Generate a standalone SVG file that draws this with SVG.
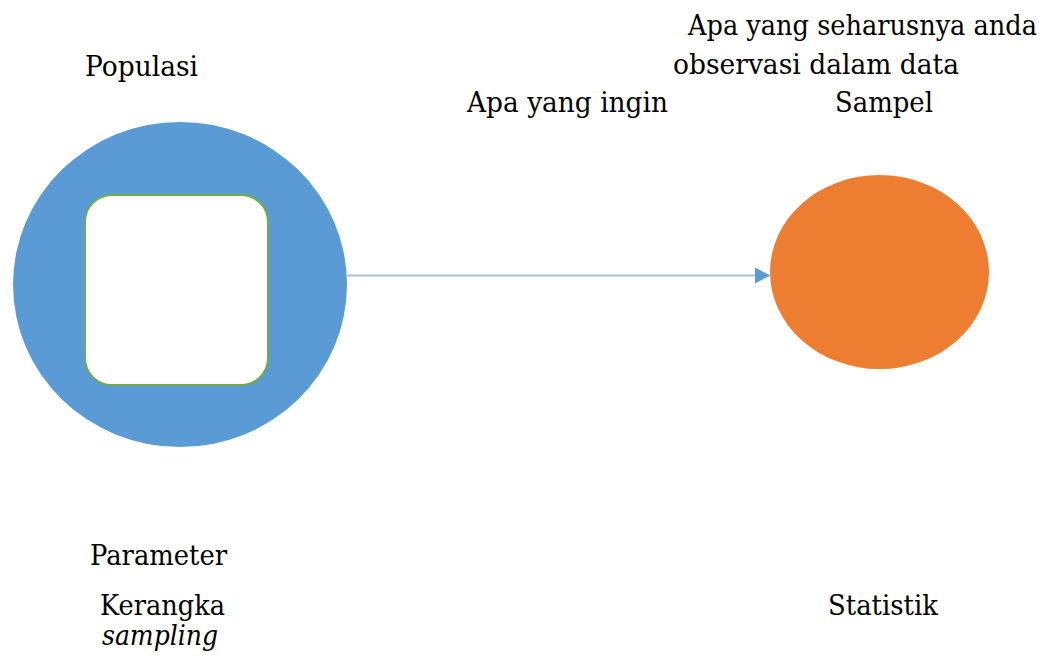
<svg xmlns="http://www.w3.org/2000/svg" width="1044" height="659" viewBox="0 0 1044 659">
<style>
text{font-family:"DejaVu Serif","Liberation Serif",serif;font-size:28px;fill:#000}
.it{font-style:italic}
</style>
<defs>
<marker id="ah" markerWidth="16" markerHeight="16" refX="15" refY="8" orient="auto" markerUnits="userSpaceOnUse">
<path d="M0,0 L15,8 L0,16 Z" fill="#5B9BD5"/>
</marker>
</defs>
<rect width="1044" height="659" fill="#fff"/>
<g id="connectors">
<line x1="347" y1="275.5" x2="770" y2="275.5" stroke="#A9C1D3" stroke-width="2" marker-end="url(#ah)"/>
</g>
<g id="populasi">
<ellipse cx="180" cy="284.5" rx="167" ry="162.5" fill="#5B9BD5"/>
<text x="85" y="75.5" textLength="113" lengthAdjust="spacingAndGlyphs">Populasi</text>
</g>
<g id="kerangka">
<rect x="85" y="195" width="183" height="190" rx="27" ry="27" fill="#fff" stroke="#70AD47" stroke-width="2"/>
</g>
<g id="sampel">
<ellipse cx="879.5" cy="272" rx="109.5" ry="97" fill="#ED7D31"/>
<text x="835" y="112" textLength="98" lengthAdjust="spacingAndGlyphs">Sampel</text>
</g>
<g id="labels">
<text x="688" y="35" textLength="349" lengthAdjust="spacingAndGlyphs">Apa yang seharusnya anda</text>
<text x="673" y="74" textLength="286" lengthAdjust="spacingAndGlyphs">observasi dalam data</text>
<text x="467" y="112" textLength="201" lengthAdjust="spacingAndGlyphs">Apa yang ingin</text>
<text x="90" y="565" textLength="137" lengthAdjust="spacingAndGlyphs">Parameter</text>
<text x="100" y="615" textLength="125" lengthAdjust="spacingAndGlyphs">Kerangka</text>
<text class="it" x="102" y="645" textLength="116" lengthAdjust="spacingAndGlyphs">sampling</text>
<text x="828" y="615" textLength="110" lengthAdjust="spacingAndGlyphs">Statistik</text>
</g>
</svg>
